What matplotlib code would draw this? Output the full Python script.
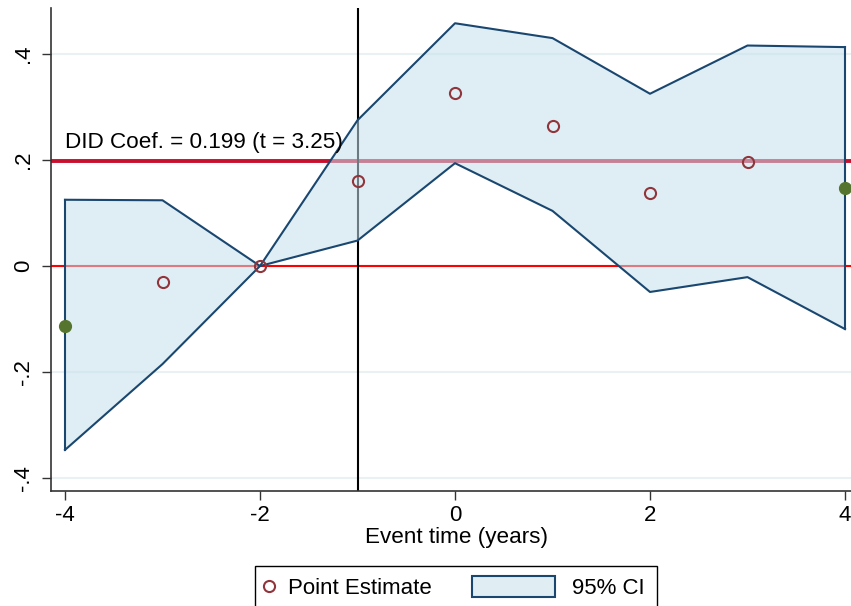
import matplotlib.pyplot as plt
from matplotlib.lines import Line2D
from matplotlib.patches import Patch, Rectangle
from matplotlib.legend_handler import HandlerPatch

plt.rcParams['font.family'] = ['Liberation Sans', 'DejaVu Sans']

# event time and estimates
event_time = [-4, -3, -2, -1, 0, 1, 2, 3, 4]
estimate = [-0.113, -0.030, 0.0, 0.160, 0.326, 0.264, 0.138, 0.196, 0.147]
ci_upper = [0.125, 0.124, 0.0, 0.275, 0.458, 0.430, 0.325, 0.416, 0.413]
ci_lower = [-0.347, -0.185, 0.0, 0.048, 0.194, 0.104, -0.049, -0.021, -0.119]
did_coef = 0.199
did_t = 3.25
yticks = [-0.4, -0.2, 0, 0.2, 0.4]
ytick_labels = ['-.4', '-.2', '0', '.2', '.4']
xticks = [-4, -2, 0, 2, 4]

navy = '#1a476f'
cranberry = '#90353b'
olive = '#55752f'

fig = plt.figure(figsize=(8.51, 6.06), dpi=100)
ax = fig.add_axes([51 / 851, 1 - 491 / 606, 800 / 851, 483 / 606])

# grid
for yv in yticks:
    ax.axhline(yv, color='#eaf1f3', lw=1.5, zorder=0)

ax.axhline(0, color='#ff0000', lw=1.5, zorder=1)
ax.axhline(did_coef, color='#c8102e', lw=2.8, zorder=1)
ax.axvline(-1, color='black', lw=1.5, zorder=1)

ax.fill_between(event_time, ci_lower, ci_upper, facecolor='#c5e0ec', alpha=0.55,
                edgecolor='none', zorder=2)
ax.plot(event_time, ci_upper, color=navy, lw=1.5, zorder=3)
ax.plot(event_time, ci_lower, color=navy, lw=1.5, zorder=3)
ax.plot([event_time[0]] * 2, [ci_lower[0], ci_upper[0]], color=navy, lw=1.5, zorder=3)
ax.plot([event_time[-1]] * 2, [ci_lower[-1], ci_upper[-1]], color=navy, lw=1.5, zorder=3)

# hollow points for inner years, filled for endpoints
ax.plot(event_time[1:-1], estimate[1:-1], 'o', ms=8, mfc='none', mec=cranberry,
        mew=1.5, zorder=4, clip_on=False)
ax.plot([event_time[0], event_time[-1]], [estimate[0], estimate[-1]], 'o', ms=8.5,
        color=olive, zorder=4, clip_on=False)

ax.text(-4, 0.2226, 'DID Coef. = %.3f (t = %.2f)' % (did_coef, did_t),
        fontsize=16.2, ha='left', va='baseline')

ax.set_xlim(-4 - 14 / 97.5, -4 - 14 / 97.5 + 800 / 97.5)
ax.set_ylim(-(491 - 266) / 530, (266 - 8) / 530)
ax.set_xticks(xticks)
ax.set_xticklabels([str(x) for x in xticks])
ax.set_yticks(yticks)
ax.set_yticklabels(ytick_labels, rotation=90, va='center')
ax.tick_params(labelsize=16, length=6.5, width=1, color='#333333')
ax.tick_params(axis='y', pad=5.5)
ax.set_xlabel('Event time (years)', fontsize=16.2, labelpad=4)
ax.xaxis.set_label_coords(0.507, -0.075)
for s in ['top', 'right']:
    ax.spines[s].set_visible(False)
for s in ['left', 'bottom']:
    ax.spines[s].set_color('#333333')
    ax.spines[s].set_linewidth(1.2)


def wide_patch(legend, orig_handle, xdescent, ydescent, width, height, fontsize):
    extra = 3.54 * fontsize
    return Rectangle((-xdescent - extra, -ydescent - 0.15 * height), width + extra,
                     height * 1.3)


handles = [Line2D([], [], marker='o', ls='none', ms=8, mfc='none', mec=cranberry, mew=1.5),
           Patch(facecolor='#e0eef4', edgecolor=navy, lw=1.5)]
fig.legend(handles, ['Point Estimate', '95% CI'], ncol=2, fontsize=16,
           loc='upper center', bbox_to_anchor=(456 / 851, 1 - 566 / 606),
           frameon=True, fancybox=False, edgecolor='black', framealpha=1,
           handlelength=0.2, handletextpad=0.76, columnspacing=5.34,
           borderpad=0.55, borderaxespad=0,
           handler_map={Patch: HandlerPatch(patch_func=wide_patch)})

fig.savefig('out.png', dpi=100)
